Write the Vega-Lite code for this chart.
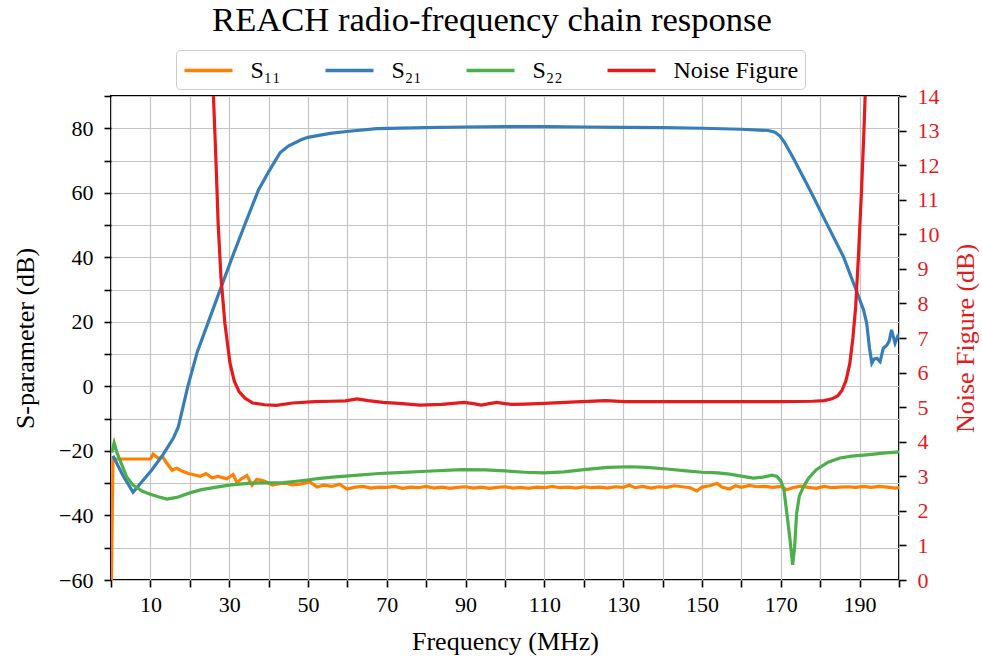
{
  "$schema": "https://vega.github.io/schema/vega-lite/v6.json",
  "width": 788,
  "height": 484,
  "autosize": {"type": "none"},
  "padding": {"left": 111, "top": 96, "right": 83, "bottom": 81},
  "background": "white",
  "config": {
    "font": "Liberation Serif",
    "view": {"stroke": "black", "strokeWidth": 2},
    "axis": {
      "domain": false,
      "gridColor": "#c4c4c4",
      "gridWidth": 1.2,
      "tickColor": "black",
      "tickWidth": 1.6,
      "tickSize": 7,
      "labelFontSize": 22,
      "labelColor": "black",
      "labelOverlap": false,
      "titleFontSize": 26,
      "titleFontWeight": "normal",
      "titleColor": "black"
    }
  },
  "title": {
    "text": "REACH radio-frequency chain response",
    "fontSize": 34.6,
    "fontWeight": "normal",
    "anchor": "middle",
    "frame": "group",
    "color": "black",
    "offset": 11,
    "dx": -13
  },
  "data": {
    "values": [
      {"s": "S₁₁", "f": 0, "v": -70}, {"s": "S₁₁", "f": 0.5, "v": -22.5}, {"s": "S₁₁", "f": 10, "v": -22.5},
      {"s": "S₁₁", "f": 10.7, "v": -21}, {"s": "S₁₁", "f": 11.5, "v": -21.8}, {"s": "S₁₁", "f": 12, "v": -22.3},
      {"s": "S₁₁", "f": 13.2, "v": -22}, {"s": "S₁₁", "f": 14, "v": -23.5}, {"s": "S₁₁", "f": 15.5, "v": -26},
      {"s": "S₁₁", "f": 16.7, "v": -25.4}, {"s": "S₁₁", "f": 18, "v": -26.2}, {"s": "S₁₁", "f": 19.6, "v": -27},
      {"s": "S₁₁", "f": 21, "v": -27.4}, {"s": "S₁₁", "f": 22.6, "v": -27.9}, {"s": "S₁₁", "f": 24.1, "v": -27},
      {"s": "S₁₁", "f": 25.6, "v": -28.3}, {"s": "S₁₁", "f": 27.2, "v": -27.9}, {"s": "S₁₁", "f": 29.4, "v": -28.6},
      {"s": "S₁₁", "f": 31, "v": -27.3}, {"s": "S₁₁", "f": 32, "v": -29.9}, {"s": "S₁₁", "f": 33, "v": -28.7},
      {"s": "S₁₁", "f": 34.5, "v": -27.6}, {"s": "S₁₁", "f": 35.8, "v": -30.6}, {"s": "S₁₁", "f": 37, "v": -28.8},
      {"s": "S₁₁", "f": 38.5, "v": -29.2}, {"s": "S₁₁", "f": 39.6, "v": -29.7}, {"s": "S₁₁", "f": 41, "v": -30.6},
      {"s": "S₁₁", "f": 43, "v": -30.1}, {"s": "S₁₁", "f": 44.6, "v": -30}, {"s": "S₁₁", "f": 46, "v": -30.5},
      {"s": "S₁₁", "f": 48, "v": -30.3}, {"s": "S₁₁", "f": 50.5, "v": -29.6}, {"s": "S₁₁", "f": 52.3, "v": -31.2},
      {"s": "S₁₁", "f": 54, "v": -30.6}, {"s": "S₁₁", "f": 56, "v": -31}, {"s": "S₁₁", "f": 58, "v": -30.3},
      {"s": "S₁₁", "f": 59.9, "v": -31.8}, {"s": "S₁₁", "f": 62, "v": -31.2}, {"s": "S₁₁", "f": 64, "v": -31.0},
      {"s": "S₁₁", "f": 66, "v": -31.5}, {"s": "S₁₁", "f": 68, "v": -31.2}, {"s": "S₁₁", "f": 70, "v": -31.3},
      {"s": "S₁₁", "f": 72, "v": -31.0}, {"s": "S₁₁", "f": 74, "v": -31.6}, {"s": "S₁₁", "f": 76, "v": -31.2},
      {"s": "S₁₁", "f": 78, "v": -31.4}, {"s": "S₁₁", "f": 80, "v": -31.0}, {"s": "S₁₁", "f": 82, "v": -31.5},
      {"s": "S₁₁", "f": 84, "v": -31.2}, {"s": "S₁₁", "f": 86, "v": -31.6}, {"s": "S₁₁", "f": 88, "v": -31.3},
      {"s": "S₁₁", "f": 90, "v": -31.1}, {"s": "S₁₁", "f": 92, "v": -31.5}, {"s": "S₁₁", "f": 94, "v": -31.2},
      {"s": "S₁₁", "f": 96, "v": -31.6}, {"s": "S₁₁", "f": 98, "v": -31.3}, {"s": "S₁₁", "f": 100, "v": -31.1},
      {"s": "S₁₁", "f": 102, "v": -31.5}, {"s": "S₁₁", "f": 104, "v": -31.3}, {"s": "S₁₁", "f": 106, "v": -31.6},
      {"s": "S₁₁", "f": 108, "v": -31.2}, {"s": "S₁₁", "f": 110, "v": -31.4}, {"s": "S₁₁", "f": 112, "v": -31.0},
      {"s": "S₁₁", "f": 114, "v": -31.4}, {"s": "S₁₁", "f": 116, "v": -31.2}, {"s": "S₁₁", "f": 118, "v": -31.5},
      {"s": "S₁₁", "f": 120, "v": -31.1}, {"s": "S₁₁", "f": 122, "v": -31.4}, {"s": "S₁₁", "f": 124, "v": -31.2},
      {"s": "S₁₁", "f": 126, "v": -31.5}, {"s": "S₁₁", "f": 128, "v": -31.1}, {"s": "S₁₁", "f": 130, "v": -31.3},
      {"s": "S₁₁", "f": 131.5, "v": -30.6}, {"s": "S₁₁", "f": 133, "v": -31.4}, {"s": "S₁₁", "f": 135, "v": -31.0},
      {"s": "S₁₁", "f": 137, "v": -31.5}, {"s": "S₁₁", "f": 139, "v": -31.1}, {"s": "S₁₁", "f": 141, "v": -31.3},
      {"s": "S₁₁", "f": 143, "v": -30.8}, {"s": "S₁₁", "f": 145, "v": -31.1}, {"s": "S₁₁", "f": 147, "v": -31.4},
      {"s": "S₁₁", "f": 148.7, "v": -32.4}, {"s": "S₁₁", "f": 150, "v": -31.2}, {"s": "S₁₁", "f": 152, "v": -30.8},
      {"s": "S₁₁", "f": 153.8, "v": -30.0}, {"s": "S₁₁", "f": 155, "v": -31.2}, {"s": "S₁₁", "f": 157, "v": -31.8},
      {"s": "S₁₁", "f": 158.5, "v": -30.8}, {"s": "S₁₁", "f": 160, "v": -31.3}, {"s": "S₁₁", "f": 162, "v": -30.7},
      {"s": "S₁₁", "f": 164, "v": -31.1}, {"s": "S₁₁", "f": 166, "v": -31.0}, {"s": "S₁₁", "f": 168, "v": -31.3},
      {"s": "S₁₁", "f": 170, "v": -31.0}, {"s": "S₁₁", "f": 171.5, "v": -32.0}, {"s": "S₁₁", "f": 173, "v": -31.4},
      {"s": "S₁₁", "f": 175, "v": -30.9}, {"s": "S₁₁", "f": 177, "v": -31.3}, {"s": "S₁₁", "f": 179, "v": -31.6},
      {"s": "S₁₁", "f": 181, "v": -31.0}, {"s": "S₁₁", "f": 183, "v": -31.4}, {"s": "S₁₁", "f": 185, "v": -31.2},
      {"s": "S₁₁", "f": 187, "v": -31.1}, {"s": "S₁₁", "f": 189, "v": -31.3}, {"s": "S₁₁", "f": 191, "v": -31.0},
      {"s": "S₁₁", "f": 193, "v": -31.3}, {"s": "S₁₁", "f": 195, "v": -31.0}, {"s": "S₁₁", "f": 197, "v": -31.2},
      {"s": "S₁₁", "f": 199, "v": -31.5}, {"s": "S₁₁", "f": 200, "v": -31.4},

      {"s": "S₂₁", "f": 0.5, "v": -21.5}, {"s": "S₂₁", "f": 3, "v": -27.5}, {"s": "S₂₁", "f": 5.6, "v": -32.8},
      {"s": "S₂₁", "f": 7.5, "v": -30}, {"s": "S₂₁", "f": 10.3, "v": -26}, {"s": "S₂₁", "f": 13, "v": -21.5},
      {"s": "S₂₁", "f": 15.8, "v": -16.1}, {"s": "S₂₁", "f": 17.1, "v": -12.5}, {"s": "S₂₁", "f": 19.5, "v": 0},
      {"s": "S₂₁", "f": 21.9, "v": 10.7}, {"s": "S₂₁", "f": 24.8, "v": 20.3}, {"s": "S₂₁", "f": 27.7, "v": 29.9},
      {"s": "S₂₁", "f": 30.6, "v": 39.5}, {"s": "S₂₁", "f": 33.6, "v": 49}, {"s": "S₂₁", "f": 37.4, "v": 60.8},
      {"s": "S₂₁", "f": 40, "v": 66.5}, {"s": "S₂₁", "f": 42.9, "v": 72.4}, {"s": "S₂₁", "f": 45, "v": 74.5},
      {"s": "S₂₁", "f": 48.4, "v": 76.5}, {"s": "S₂₁", "f": 50, "v": 77.2}, {"s": "S₂₁", "f": 55.6, "v": 78.4},
      {"s": "S₂₁", "f": 59.8, "v": 79}, {"s": "S₂₁", "f": 67.4, "v": 79.9}, {"s": "S₂₁", "f": 80, "v": 80.2},
      {"s": "S₂₁", "f": 89.8, "v": 80.4}, {"s": "S₂₁", "f": 100, "v": 80.5}, {"s": "S₂₁", "f": 110.6, "v": 80.5},
      {"s": "S₂₁", "f": 120, "v": 80.4}, {"s": "S₂₁", "f": 129.9, "v": 80.3}, {"s": "S₂₁", "f": 140, "v": 80.2},
      {"s": "S₂₁", "f": 150, "v": 80}, {"s": "S₂₁", "f": 160, "v": 79.7}, {"s": "S₂₁", "f": 166.8, "v": 79.3},
      {"s": "S₂₁", "f": 168.5, "v": 78.8}, {"s": "S₂₁", "f": 169.8, "v": 77.6}, {"s": "S₂₁", "f": 171, "v": 75.5},
      {"s": "S₂₁", "f": 173.2, "v": 70.7}, {"s": "S₂₁", "f": 177.4, "v": 60.9}, {"s": "S₂₁", "f": 181.6, "v": 50.6},
      {"s": "S₂₁", "f": 185.9, "v": 40.2}, {"s": "S₂₁", "f": 188.8, "v": 30.9}, {"s": "S₂₁", "f": 191, "v": 23.7},
      {"s": "S₂₁", "f": 191.8, "v": 19.6}, {"s": "S₂₁", "f": 192.5, "v": 12}, {"s": "S₂₁", "f": 193.1, "v": 7.2},
      {"s": "S₂₁", "f": 193.7, "v": 8.5}, {"s": "S₂₁", "f": 194.4, "v": 8.7}, {"s": "S₂₁", "f": 195.2, "v": 7.7},
      {"s": "S₂₁", "f": 196, "v": 11.8}, {"s": "S₂₁", "f": 196.9, "v": 12.8}, {"s": "S₂₁", "f": 197.5, "v": 14},
      {"s": "S₂₁", "f": 198.1, "v": 17.5}, {"s": "S₂₁", "f": 199, "v": 13.4}, {"s": "S₂₁", "f": 199.8, "v": 15.9},
      {"s": "S₂₁", "f": 200, "v": 16},

      {"s": "S₂₂", "f": 0.2, "v": -20.5}, {"s": "S₂₂", "f": 0.8, "v": -17.5}, {"s": "S₂₂", "f": 1.5, "v": -20.5},
      {"s": "S₂₂", "f": 2.3, "v": -22.9}, {"s": "S₂₂", "f": 4, "v": -28.1}, {"s": "S₂₂", "f": 5.6, "v": -30.6},
      {"s": "S₂₂", "f": 8, "v": -32.5}, {"s": "S₂₂", "f": 10, "v": -33.4}, {"s": "S₂₂", "f": 12, "v": -34.2},
      {"s": "S₂₂", "f": 14.2, "v": -34.9}, {"s": "S₂₂", "f": 16.7, "v": -34.4}, {"s": "S₂₂", "f": 20, "v": -33},
      {"s": "S₂₂", "f": 23, "v": -32}, {"s": "S₂₂", "f": 26.8, "v": -31.2}, {"s": "S₂₂", "f": 30, "v": -30.6},
      {"s": "S₂₂", "f": 35.3, "v": -30}, {"s": "S₂₂", "f": 40, "v": -29.9}, {"s": "S₂₂", "f": 43.7, "v": -29.8},
      {"s": "S₂₂", "f": 47, "v": -29.4}, {"s": "S₂₂", "f": 49.7, "v": -29.0}, {"s": "S₂₂", "f": 53, "v": -28.5},
      {"s": "S₂₂", "f": 56.3, "v": -28.1}, {"s": "S₂₂", "f": 62, "v": -27.6}, {"s": "S₂₂", "f": 68, "v": -27},
      {"s": "S₂₂", "f": 73, "v": -26.7}, {"s": "S₂₂", "f": 80, "v": -26.3}, {"s": "S₂₂", "f": 89, "v": -25.8},
      {"s": "S₂₂", "f": 95, "v": -25.9}, {"s": "S₂₂", "f": 100, "v": -26.2}, {"s": "S₂₂", "f": 105, "v": -26.6},
      {"s": "S₂₂", "f": 110, "v": -26.8}, {"s": "S₂₂", "f": 115, "v": -26.5}, {"s": "S₂₂", "f": 120, "v": -25.8},
      {"s": "S₂₂", "f": 126, "v": -25.1}, {"s": "S₂₂", "f": 131.7, "v": -24.9}, {"s": "S₂₂", "f": 136, "v": -25.1},
      {"s": "S₂₂", "f": 141, "v": -25.6}, {"s": "S₂₂", "f": 146, "v": -26.2}, {"s": "S₂₂", "f": 150, "v": -26.6},
      {"s": "S₂₂", "f": 154, "v": -26.8}, {"s": "S₂₂", "f": 157, "v": -27.2}, {"s": "S₂₂", "f": 160, "v": -27.8},
      {"s": "S₂₂", "f": 163, "v": -28.4}, {"s": "S₂₂", "f": 165.5, "v": -28.1}, {"s": "S₂₂", "f": 167.8, "v": -27.5},
      {"s": "S₂₂", "f": 169, "v": -27.9}, {"s": "S₂₂", "f": 170, "v": -29.3}, {"s": "S₂₂", "f": 170.8, "v": -32},
      {"s": "S₂₂", "f": 171.5, "v": -39}, {"s": "S₂₂", "f": 172.3, "v": -47}, {"s": "S₂₂", "f": 173, "v": -55.3},
      {"s": "S₂₂", "f": 173.5, "v": -50}, {"s": "S₂₂", "f": 174, "v": -39.5}, {"s": "S₂₂", "f": 174.7, "v": -34},
      {"s": "S₂₂", "f": 175.7, "v": -31.2}, {"s": "S₂₂", "f": 177, "v": -28.5}, {"s": "S₂₂", "f": 179, "v": -25.8},
      {"s": "S₂₂", "f": 182, "v": -23.5}, {"s": "S₂₂", "f": 185, "v": -22.2}, {"s": "S₂₂", "f": 188, "v": -21.6},
      {"s": "S₂₂", "f": 191.8, "v": -21.2}, {"s": "S₂₂", "f": 196, "v": -20.7}, {"s": "S₂₂", "f": 200, "v": -20.3},

      {"s": "Noise Figure", "f": 24.5, "v": 19}, {"s": "Noise Figure", "f": 25.3, "v": 16}, {"s": "Noise Figure", "f": 26, "v": 14},
      {"s": "Noise Figure", "f": 26.6, "v": 12.25}, {"s": "Noise Figure", "f": 27.2, "v": 10.3}, {"s": "Noise Figure", "f": 27.9, "v": 8.77},
      {"s": "Noise Figure", "f": 28.9, "v": 7.43}, {"s": "Noise Figure", "f": 30.2, "v": 6.27}, {"s": "Noise Figure", "f": 31.3, "v": 5.75},
      {"s": "Noise Figure", "f": 32.5, "v": 5.45}, {"s": "Noise Figure", "f": 34, "v": 5.26}, {"s": "Noise Figure", "f": 36, "v": 5.12},
      {"s": "Noise Figure", "f": 39, "v": 5.07}, {"s": "Noise Figure", "f": 42, "v": 5.05}, {"s": "Noise Figure", "f": 46, "v": 5.12},
      {"s": "Noise Figure", "f": 51.7, "v": 5.16}, {"s": "Noise Figure", "f": 56, "v": 5.17}, {"s": "Noise Figure", "f": 59.5, "v": 5.18},
      {"s": "Noise Figure", "f": 62.4, "v": 5.24}, {"s": "Noise Figure", "f": 65.3, "v": 5.19}, {"s": "Noise Figure", "f": 69, "v": 5.14},
      {"s": "Noise Figure", "f": 73.1, "v": 5.11}, {"s": "Noise Figure", "f": 78.4, "v": 5.06}, {"s": "Noise Figure", "f": 84, "v": 5.08},
      {"s": "Noise Figure", "f": 89.6, "v": 5.14}, {"s": "Noise Figure", "f": 92, "v": 5.1}, {"s": "Noise Figure", "f": 94, "v": 5.06},
      {"s": "Noise Figure", "f": 96, "v": 5.1}, {"s": "Noise Figure", "f": 97.9, "v": 5.14}, {"s": "Noise Figure", "f": 100, "v": 5.1},
      {"s": "Noise Figure", "f": 101.7, "v": 5.08}, {"s": "Noise Figure", "f": 105, "v": 5.09}, {"s": "Noise Figure", "f": 110, "v": 5.11},
      {"s": "Noise Figure", "f": 118, "v": 5.15}, {"s": "Noise Figure", "f": 125.6, "v": 5.19}, {"s": "Noise Figure", "f": 130.4, "v": 5.16},
      {"s": "Noise Figure", "f": 140, "v": 5.16}, {"s": "Noise Figure", "f": 150, "v": 5.16}, {"s": "Noise Figure", "f": 160, "v": 5.16},
      {"s": "Noise Figure", "f": 170, "v": 5.16}, {"s": "Noise Figure", "f": 178, "v": 5.17}, {"s": "Noise Figure", "f": 181, "v": 5.19},
      {"s": "Noise Figure", "f": 183, "v": 5.24}, {"s": "Noise Figure", "f": 184.5, "v": 5.33}, {"s": "Noise Figure", "f": 185.5, "v": 5.48},
      {"s": "Noise Figure", "f": 186.5, "v": 5.75}, {"s": "Noise Figure", "f": 187.5, "v": 6.25}, {"s": "Noise Figure", "f": 188.3, "v": 7.0},
      {"s": "Noise Figure", "f": 189, "v": 7.9}, {"s": "Noise Figure", "f": 189.7, "v": 9.35}, {"s": "Noise Figure", "f": 190.5, "v": 11.3},
      {"s": "Noise Figure", "f": 191.1, "v": 13}, {"s": "Noise Figure", "f": 191.5, "v": 14.3}, {"s": "Noise Figure", "f": 192.2, "v": 17}
    ]
  },
  "layer": [
    {
      "transform": [{"filter": "datum.s != 'Noise Figure'"}],
      "mark": {"type": "line", "strokeWidth": 3.2, "clip": true},
      "encoding": {
        "x": {
          "field": "f", "type": "quantitative",
          "scale": {"domain": [0, 200], "nice": false, "zero": false},
          "axis": {
            "title": "Frequency (MHz)",
            "values": [0, 10, 20, 30, 40, 50, 60, 70, 80, 90, 100, 110, 120, 130, 140, 150, 160, 170, 180, 190, 200],
            "labelExpr": "datum.value % 20 == 10 ? datum.label : ''",
            "labelOverlap": false,
            "labelPadding": 7,
            "labelFlush": false,
            "titleX": 394, "titleY": 61, "titleBaseline": "middle", "titleAlign": "center",
            "grid": true
          }
        },
        "y": {
          "field": "v", "type": "quantitative",
          "scale": {"domain": [-60, 90], "nice": false, "zero": false},
          "axis": {
            "title": "S-parameter (dB)",
            "values": [-60, -50, -40, -30, -20, -10, 0, 10, 20, 30, 40, 50, 60, 70, 80, 90],
            "labelExpr": "datum.value % 20 == 0 ? datum.label : ''",
            "labelOverlap": false,
            "labelPadding": 11,
            "titleX": -86, "titleY": 242, "titleAngle": 270, "titleBaseline": "middle", "titleAlign": "center",
            "grid": true
          }
        },
        "color": {
          "field": "s", "type": "nominal",
          "scale": {"domain": ["S₁₁", "S₂₁", "S₂₂", "Noise Figure"], "range": ["#ff7f00", "#377eb8", "#4daf4a", "#e41a1c"]},
          "legend": {
            "title": null,
            "orient": "none",
            "legendX": 65,
            "legendY": -46,
            "direction": "horizontal",
            "symbolType": "M-1,0H3",
            "symbolSize": 576,
            "symbolStrokeWidth": 3.5,
            "labelFontSize": 24,
            "labelOffset": 40,
            "columnPadding": 37,
            "padding": 6.5,
            "strokeColor": "#cccccc",
            "cornerRadius": 4,
            "fillColor": "white",
            "labelColor": "black"
          }
        }
      }
    },
    {
      "transform": [{"filter": "datum.s == 'Noise Figure'"}],
      "mark": {"type": "line", "strokeWidth": 3.2, "clip": true},
      "encoding": {
        "x": {
          "field": "f", "type": "quantitative",
          "axis": {
            "title": "Frequency (MHz)",
            "values": [0, 10, 20, 30, 40, 50, 60, 70, 80, 90, 100, 110, 120, 130, 140, 150, 160, 170, 180, 190, 200],
            "labelExpr": "datum.value % 20 == 10 ? datum.label : ''",
            "labelOverlap": false,
            "labelPadding": 7,
            "labelFlush": false,
            "titleX": 394, "titleY": 61, "titleBaseline": "middle", "titleAlign": "center",
            "grid": true
          }
        },
        "y": {
          "field": "v", "type": "quantitative",
          "scale": {"domain": [0, 14], "nice": false, "zero": false},
          "axis": {
            "orient": "right",
            "title": "Noise Figure (dB)",
            "values": [0, 1, 2, 3, 4, 5, 6, 7, 8, 9, 10, 11, 12, 13, 14],
            "grid": false,
            "labelOverlap": false,
            "labelColor": "#e41a1c",
            "titleColor": "#e41a1c",
            "labelPadding": 11,
            "titleX": 66, "titleY": 242, "titleAngle": 270, "titleBaseline": "middle", "titleAlign": "center"
          }
        },
        "color": {"field": "s", "type": "nominal"}
      }
    }
  ],
  "resolve": {"scale": {"y": "independent"}}
}
